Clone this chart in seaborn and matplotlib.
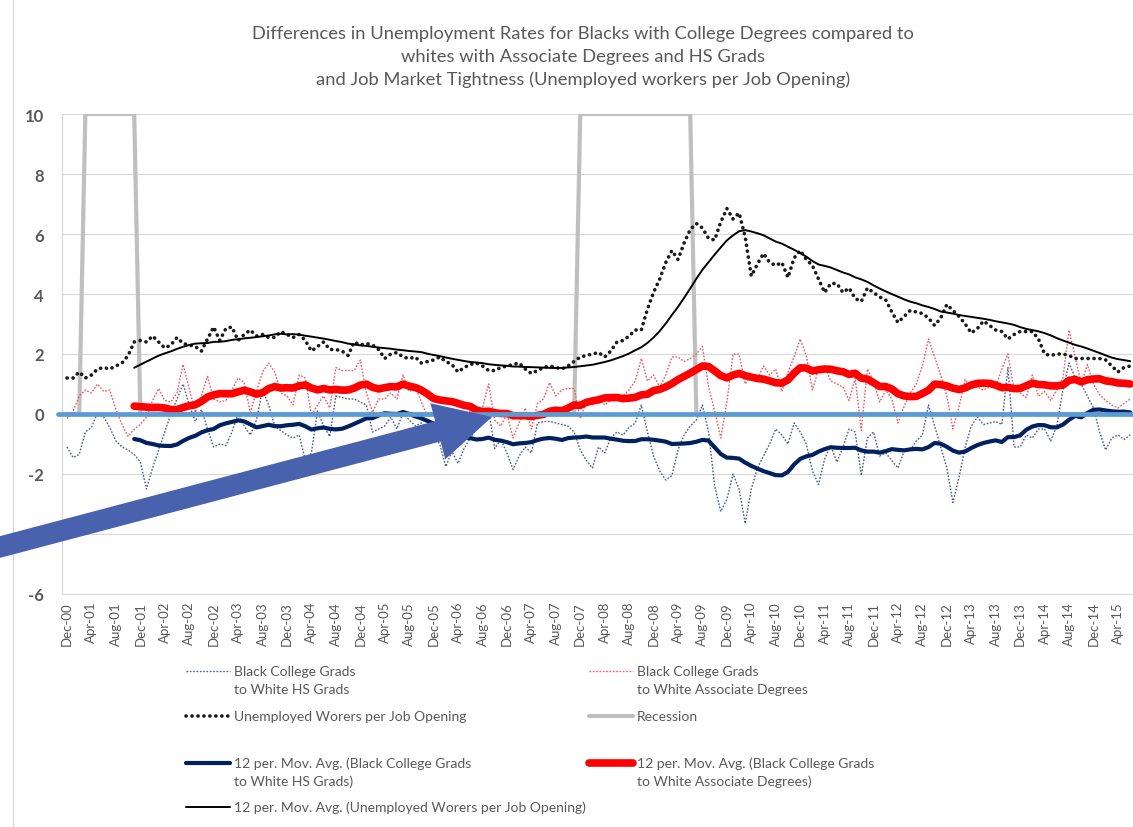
import pandas as pd
import matplotlib
matplotlib.use("Agg")
import matplotlib.pyplot as plt
from matplotlib.lines import Line2D
from matplotlib.patches import FancyArrow
from matplotlib.transforms import IdentityTransform
import seaborn as sns

# ---- data: monthly, Dec-00 .. Jun-15 (one row = Dec..Nov) ----
months = pd.date_range("2000-12-01", "2015-06-01", freq="MS")
month_labels = [m.strftime("%b-%y") for m in months]

# Black college grads minus white HS grads (unemployment rate gap)
gap_hs = [
    -1.1, -1.45, -1.35, -0.6, -0.45, 0.05, -0.1, -0.45, -0.9, -1.1, -1.2, -1.35,
    -1.6, -2.5, -1.8, -1.2, -0.6, 0.0, 0.5, 1.0, 0.3, -0.25, 0.15, -0.5,
    -1.1, -1.0, -1.05, -0.6, 0.0, -0.4, -0.7, -0.2, 0.8, 0.3, -0.4, -0.55,
    -0.7, -0.8, -0.7, -1.55, -1.3, 0.1, -0.4, -0.75, 0.6, 0.55, 0.5, 0.5,
    0.4, 0.3, -0.6, -0.5, -0.4, -0.1, -0.5, 0.05, -0.2, -0.4, -0.3, -0.5,
    -0.7, -1.0, -1.75, -1.25, -1.65, -1.15, -0.8, -0.5, 0.0, 0.15, -1.15, -0.85,
    -1.3, -1.85, -1.4, -1.1, -1.3, -0.3, -0.25, -0.25, -0.3, -0.35, -0.4, -0.6,
    -1.2, -1.55, -1.8, -1.1, -1.3, -0.8, -0.6, -0.7, -0.45, -0.3, 0.3, -0.6,
    -1.4, -1.9, -2.2, -2.05, -1.2, -0.7, -0.4, -0.2, 0.3, -0.6, -2.4, -3.25,
    -2.85, -2.0, -2.5, -3.65, -2.5, -1.8, -1.4, -1.0, -0.5, -0.7, -1.0, -0.3,
    -0.6, -1.0, -1.9, -2.35, -1.5, -1.05, -1.6, -1.1, -0.5, -0.6, -2.05, -0.8,
    -0.6, -1.4, -1.3, -1.55, -1.8, -1.25, -1.2, -0.9, -0.7, 0.3, -0.4, -1.1,
    -1.8, -2.95, -2.1, -1.1, -0.4, -0.1, -0.35, -0.3, -0.25, -0.35, 1.55, -1.1,
    -1.1, -0.7, -0.8, -0.5, -0.5, -0.9, -0.4, 0.8, 1.7, 1.2, 1.0, 0.6,
    0.2, -0.6, -1.2, -0.8, -0.7, -0.85, -0.7,
]

# Black college grads minus white associate degrees
gap_assoc = [
    -0.15, 0.1, 0.6, 0.8, 0.7, 1.0, 0.75, 0.8, 0.15, -0.35, -0.75, -0.5,
    -0.35, -0.1, 0.45, 0.85, 0.45, 0.4, 0.7, 1.65, 0.85, 0.05, 0.6, 1.25,
    0.5, 0.4, 0.45, 0.8, 1.2, 1.05, 0.05, 0.75, 1.4, 1.7, 1.4, 0.7,
    0.6, 0.3, 1.3, 1.2, -0.05, 0.3, 0.6, 0.2, 1.55, 1.45, 1.45, 1.45,
    1.8, 0.7, 0.05, 0.5, 0.5, 0.7, 0.5, 1.3, 0.75, 0.9, 0.4, -0.1,
    0.0, 0.1, -0.3, 0.2, -0.2, -0.1, 0.1, -0.2, 0.2, 1.0, -0.2, -0.4,
    0.0, -0.8, -0.3, 0.2, -0.5, 0.35, 0.5, 1.05, 0.6, 0.8, 0.85, 0.85,
    -0.15, 0.4, 0.3, 0.6, 0.3, 0.45, 0.55, 0.6, 0.8, 1.1, 1.85, 1.1,
    1.3, 0.9, 1.3, 1.9, 1.9, 1.75, 1.85, 2.0, 2.25, 0.9, 0.1, -0.8,
    0.4, 2.0, 2.0, 1.0, 1.3, 1.2, 1.6, 1.3, 1.5, 0.75, 1.4, 1.9,
    2.5, 1.95, 0.8, 1.5, 1.6, 1.1, 1.0, 0.9, 0.45, 1.2, -0.55, 1.5,
    1.1, 0.4, 0.8, 0.5, -0.3, 0.25, 0.7, 1.0, 1.6, 2.5, 1.9, 1.3,
    0.6, -0.5, 0.25, 1.15, 0.85, 0.9, 0.8, 0.9, 0.9, 1.5, 2.0, 0.8,
    0.7, 0.55, 1.3, 0.6, 0.75, 0.45, 0.8, 1.2, 2.8, 1.9, 1.0, 1.65,
    1.0, 0.65, 0.45, 0.3, 0.2, 0.35, 0.5,
]

# unemployed workers per job opening
unemp_per_opening = [
    1.2, 1.2, 1.4, 1.2, 1.3, 1.5, 1.55, 1.5, 1.6, 1.7, 1.95, 2.4,
    2.45, 2.4, 2.6, 2.4, 2.2, 2.3, 2.55, 2.35, 2.3, 2.25, 2.1, 2.5,
    2.9, 2.45, 2.85, 2.9, 2.45, 2.65, 2.8, 2.6, 2.65, 2.55, 2.55, 2.75,
    2.65, 2.55, 2.65, 2.45, 2.1, 2.25, 2.4, 2.15, 2.15, 2.1, 1.95, 2.4,
    2.3, 2.35, 2.3, 2.15, 1.85, 2.0, 2.05, 1.9, 1.85, 1.9, 1.7, 1.75,
    1.8, 1.9, 1.75, 1.65, 1.4, 1.55, 1.65, 1.7, 1.6, 1.45, 1.45, 1.55,
    1.6, 1.65, 1.7, 1.5, 1.35, 1.45, 1.55, 1.6, 1.55, 1.5, 1.6, 1.75,
    1.9, 1.95, 2.0, 2.05, 1.9, 2.1, 2.4, 2.45, 2.6, 2.8, 2.8, 3.5,
    4.05, 4.5, 5.05, 5.45, 5.15, 5.7, 6.15, 6.35, 6.2, 5.85, 5.8, 6.4,
    6.85, 6.5, 6.7, 5.9, 4.6, 5.0, 5.35, 5.05, 4.95, 5.05, 4.55, 5.2,
    5.45, 5.15, 4.95, 4.5, 4.05, 4.35, 4.35, 4.05, 4.2, 3.85, 3.75, 4.2,
    4.05, 3.9, 3.8, 3.4, 3.05, 3.25, 3.45, 3.4, 3.35, 3.2, 2.95, 3.2,
    3.65, 3.45, 3.25, 3.0, 2.7, 2.85, 3.1, 2.95, 2.8, 2.75, 2.5, 2.65,
    2.75, 2.75, 2.75, 2.5, 2.0, 1.95, 2.0, 2.0, 1.95, 1.85, 1.85, 1.85,
    1.85, 1.85, 1.8, 1.6, 1.4, 1.55, 1.6,
]

# recession flag drawn as 0 / 10
recession = [0] * 3 + [10] * 9 + [0] * 72 + [10] * 19 + [0] * 72

df = pd.DataFrame({
    "t": range(len(months)),
    "hs": gap_hs,
    "assoc": gap_assoc,
    "unemp": unemp_per_opening,
    "rec": recession,
})
# Excel "12 per. Mov. Avg." trendlines
df["hs_ma"] = df["hs"].rolling(12).mean()
df["assoc_ma"] = df["assoc"].rolling(12).mean()
df["unemp_ma"] = df["unemp"].rolling(12).mean()

# ---- figure ----
W, H = 1133, 828
sns.set_theme(style="white")
plt.rcParams["font.family"] = ["Lato", "DejaVu Sans"]
grey_txt = "#595959"

fig = plt.figure(figsize=(W / 100, H / 100), dpi=100)
ax = fig.add_axes([62 / W, 1 - 595 / H, (W - 62) / W, (595 - 115) / H])

kw = dict(ax=ax, x="t", data=df, legend=False, estimator=None, sort=False)
sns.lineplot(y="rec", color="#BFBFBF", lw=3, zorder=2, **kw)
sns.lineplot(y="hs", color="#4A5C8C", lw=1, linestyle=(0, (1.2, 1.2)), zorder=3, **kw)
sns.lineplot(y="assoc", color="#F0575C", lw=1, linestyle=(0, (1.2, 1.2)), zorder=3, **kw)
sns.lineplot(y="unemp", color="#1A1A1A", lw=2.6, linestyle=(0, (0.05, 1.6)),
             dash_capstyle="round", zorder=4, **kw)
sns.lineplot(y="hs_ma", color="#002060", lw=3, zorder=5, **kw)
sns.lineplot(y="assoc_ma", color="#FF0000", lw=5.5, zorder=5, **kw)
sns.lineplot(y="unemp_ma", color="#000000", lw=1.4, zorder=5, **kw)

# zero line shape
ax.axhline(0, xmin=-0.004, xmax=1, color="#5B9BD5", lw=3.4, clip_on=False, zorder=6)

ax.set_xlim(-0.82, 174.47)
ax.set_ylim(-6, 10)
ax.set_yticks(range(-6, 11, 2))
ax.set_yticklabels([str(v) for v in range(-6, 11, 2)], fontsize=12,
                   fontweight="bold", color=grey_txt)
ax.set_xticks(range(0, len(months), 4))
ax.set_xticklabels(month_labels[::4], rotation=90, fontsize=9.5, color=grey_txt)
ax.tick_params(axis="x", length=0, pad=5)
ax.tick_params(axis="y", length=0, pad=13)
ax.set_xlabel("")
ax.set_ylabel("")
ax.yaxis.grid(True, color="#D9D9D9", lw=0.8)
ax.set_axisbelow(True)
for s in ["top", "right"]:
    ax.spines[s].set_visible(False)
for s in ["left", "bottom"]:
    ax.spines[s].set_color("#D9D9D9")
    ax.spines[s].set_linewidth(0.8)

fig.text(583 / W, 1 - 57 / H,
         "Differences in Unemployment Rates for Blacks with College Degrees compared to\n"
         "whites with Associate Degrees and HS Grads\n"
         "and Job Market Tightness (Unemployed workers per Job Opening)",
         ha="center", va="center", fontsize=13.2, color=grey_txt, linespacing=1.52)

# chart border (left edge visible)
fig.add_artist(Line2D([13 / W, 13 / W], [0, 1], color="#D9D9D9", lw=1))

# ---- legend, laid out like the Excel one ----
def fx(x):
    return x / W

def fy(y):
    return 1 - y / H

legend_items = [
    (186, 672, dict(color="#4A5C8C", lw=1, linestyle=(0, (1.2, 1.2))),
     ["Black College Grads", "to White HS Grads"]),
    (589, 672, dict(color="#F0575C", lw=1, linestyle=(0, (1.2, 1.2))),
     ["Black College Grads", "to White Associate Degrees"]),
    (186, 717, dict(color="#1A1A1A", lw=2.6, linestyle=(0, (0.05, 1.6)), dash_capstyle="round"),
     ["Unemployed Worers per Job Opening"]),
    (589, 717, dict(color="#BFBFBF", lw=3),
     ["Recession"]),
    (186, 764, dict(color="#002060", lw=3),
     ["12 per. Mov. Avg. (Black College Grads", "to White HS Grads)"]),
    (589, 764, dict(color="#FF0000", lw=5.5),
     ["12 per. Mov. Avg. (Black College Grads", "to White Associate Degrees)"]),
    (186, 808, dict(color="#000000", lw=1.4),
     ["12 per. Mov. Avg. (Unemployed Worers per Job Opening)"]),
]
for x0, y0, style, lines in legend_items:
    fig.add_artist(Line2D([fx(x0), fx(x0 + 44)], [fy(y0), fy(y0)], **style))
    for k, line in enumerate(lines):
        fig.text(fx(x0 + 48), fy(y0 + 18 * k), line, ha="left", va="center",
                 fontsize=10, color=grey_txt)

# big annotation arrow pointing at the zero line
tail_x, tail_y = -20, H - 553.3
tip_x, tip_y = 492, H - 418
fig.add_artist(FancyArrow(tail_x, tail_y, tip_x - tail_x, tip_y - tail_y,
                          width=21, head_width=58, head_length=56,
                          length_includes_head=True, color="#4862AE", lw=0,
                          transform=IdentityTransform(), zorder=10))

fig.savefig("out.png", dpi=100)
